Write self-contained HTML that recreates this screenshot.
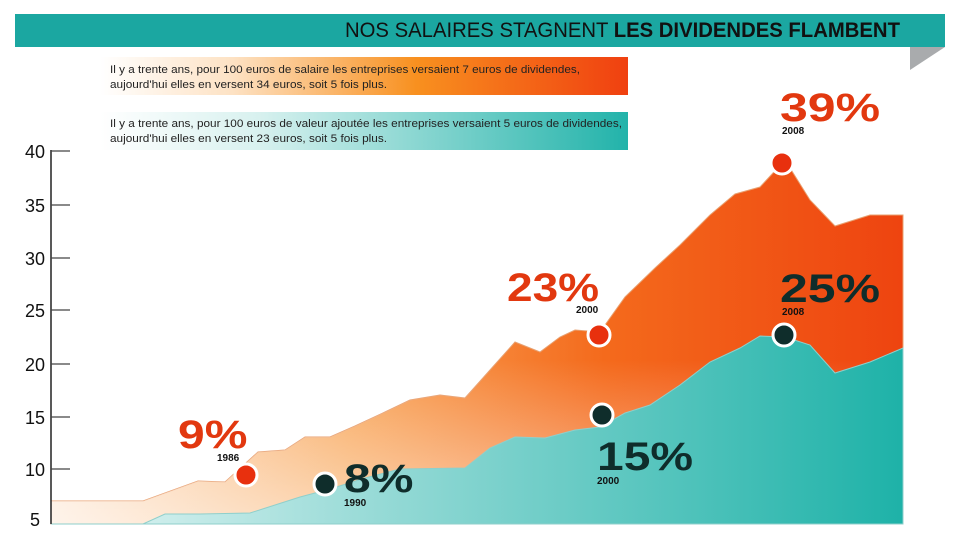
<!DOCTYPE html>
<html><head><meta charset="utf-8"><style>
body{margin:0;width:960px;height:543px;background:#fff;overflow:hidden;font-family:"Liberation Sans",sans-serif}
</style></head><body>
<svg width="960" height="543" viewBox="0 0 960 543" xmlns="http://www.w3.org/2000/svg" font-family="Liberation Sans, sans-serif">
<defs>
<linearGradient id="og" x1="0" x2="1" y1="0" y2="0"><stop offset="0" stop-color="#fde6d2"/><stop offset="0.35" stop-color="#f8a659"/><stop offset="0.65" stop-color="#f46a1c"/><stop offset="1" stop-color="#ee4410"/></linearGradient>
<linearGradient id="ov" x1="0" x2="0" y1="0" y2="1"><stop offset="0.55" stop-color="#fff" stop-opacity="0"/><stop offset="1" stop-color="#fff" stop-opacity="0.55"/></linearGradient>
<linearGradient id="tg" x1="0" x2="1" y1="0" y2="0"><stop offset="0" stop-color="#e6f6f5"/><stop offset="0.4" stop-color="#93d9d5"/><stop offset="1" stop-color="#1eb2a8"/></linearGradient>
<linearGradient id="b1" x1="0" x2="1"><stop offset="0" stop-color="#fff"/><stop offset="0.25" stop-color="#fde2c4"/><stop offset="0.6" stop-color="#f8901f"/><stop offset="1" stop-color="#f04010"/></linearGradient>
<linearGradient id="b2" x1="0" x2="1"><stop offset="0" stop-color="#fff"/><stop offset="0.3" stop-color="#d8f1ef"/><stop offset="1" stop-color="#22b3aa"/></linearGradient>
</defs>
<rect x="15" y="14" width="930" height="33" fill="#1ba7a1"/>
<polygon points="910,47 945,47 910,70" fill="#a9abad"/>
<text x="900" y="37" text-anchor="end" font-size="21" fill="#111" textLength="555" lengthAdjust="spacingAndGlyphs">NOS SALAIRES STAGNENT <tspan font-weight="bold">LES DIVIDENDES FLAMBENT</tspan></text>
<rect x="100" y="57" width="528" height="38" fill="url(#b1)"/>
<text x="110" y="73" font-size="11" fill="#222" textLength="470" lengthAdjust="spacingAndGlyphs">Il y a trente ans, pour 100 euros de salaire les entreprises versaient 7 euros de dividendes,</text>
<text x="110" y="88" font-size="11" fill="#222" textLength="277" lengthAdjust="spacingAndGlyphs">aujourd'hui elles en versent 34 euros, soit 5 fois plus.</text>
<rect x="100" y="112" width="528" height="38" fill="url(#b2)"/>
<text x="110" y="127" font-size="11" fill="#222" textLength="512" lengthAdjust="spacingAndGlyphs">Il y a trente ans, pour 100 euros de valeur ajoutée les entreprises versaient 5 euros de dividendes,</text>
<text x="110" y="142" font-size="11" fill="#222" textLength="277" lengthAdjust="spacingAndGlyphs">aujourd'hui elles en versent 23 euros, soit 5 fois plus.</text>
<path d="M51,501 L143,501 L198,481 L225,482 L258,452 L285,450 L305,437 L330,437 L355,426 L385,412 L410,400 L440,395 L465,398 L490,370 L515,342 L540,352 L560,337 L575,330 L600,332 L625,297 L655,268 L680,245 L710,215 L735,194 L760,187 L785,160 L810,200 L835,226 L870,215 L903,215 L903,524 L51,524Z" fill="url(#og)" stroke="#e8a070" stroke-width="1"/>
<path d="M51,501 L143,501 L198,481 L225,482 L258,452 L285,450 L305,437 L330,437 L355,426 L385,412 L410,400 L440,395 L465,398 L490,370 L515,342 L540,352 L560,337 L575,330 L600,332 L625,297 L655,268 L680,245 L710,215 L735,194 L760,187 L785,160 L810,200 L835,226 L870,215 L903,215 L903,524 L51,524Z" fill="url(#ov)"/>
<path d="M51,524 L143,524 L165,514 L200,514 L250,513 L300,497 L330,489 L365,478 L400,469 L465,468 L490,448 L515,437 L545,438 L575,430 L600,427 L625,413 L650,405 L680,385 L710,362 L740,348 L760,336 L785,337 L810,345 L835,373 L870,362 L903,348 L903,524Z" fill="url(#tg)" stroke="#8fcfcb" stroke-width="1"/>
<line x1="51" y1="150" x2="51" y2="524" stroke="#222" stroke-width="1.5"/>
<g stroke="#444" stroke-width="1.2">
<line x1="51" y1="151" x2="70" y2="151"/><line x1="51" y1="205" x2="70" y2="205"/><line x1="51" y1="258" x2="70" y2="258"/><line x1="51" y1="310" x2="70" y2="310"/><line x1="51" y1="364" x2="70" y2="364"/><line x1="51" y1="417" x2="70" y2="417"/><line x1="51" y1="469" x2="70" y2="469"/>
</g>
<g font-size="18" fill="#111" text-anchor="end">
<text x="45" y="158">40</text><text x="45" y="212">35</text><text x="45" y="265">30</text><text x="45" y="317">25</text><text x="45" y="371">20</text><text x="45" y="424">15</text><text x="45" y="476">10</text><text x="40" y="526">5</text>
</g>
<g stroke="#fff" stroke-width="3">
<circle cx="246" cy="475" r="11" fill="#e8300e"/>
<circle cx="325" cy="484" r="11" fill="#0f2d2b"/>
<circle cx="599" cy="335" r="11" fill="#e8300e"/>
<circle cx="602" cy="415" r="11" fill="#0f2d2b"/>
<circle cx="782" cy="163" r="11" fill="#e8300e"/>
<circle cx="784" cy="335" r="11" fill="#0f2d2b"/>
</g>
<g font-weight="bold">
<text transform="translate(178,448) scale(1.2,1)" font-size="40" fill="#e2380f">9%</text>
<text x="217" y="461" font-size="10" fill="#111">1986</text>
<text transform="translate(344,492) scale(1.2,1)" font-size="40" fill="#0f2d2b">8%</text>
<text x="344" y="506" font-size="10" fill="#111">1990</text>
<text transform="translate(507,301) scale(1.15,1)" font-size="40" fill="#e2380f">23%</text>
<text x="576" y="313" font-size="10" fill="#111">2000</text>
<text transform="translate(597,470) scale(1.2,1)" font-size="40" fill="#0f2d2b">15%</text>
<text x="597" y="484" font-size="10" fill="#111">2000</text>
<text transform="translate(780,121) scale(1.25,1)" font-size="40" fill="#e2380f">39%</text>
<text x="782" y="134" font-size="10" fill="#111">2008</text>
<text transform="translate(780,302) scale(1.25,1)" font-size="40" fill="#0f2d2b">25%</text>
<text x="782" y="315" font-size="10" fill="#111">2008</text>
</g>
</svg>
</body></html>
